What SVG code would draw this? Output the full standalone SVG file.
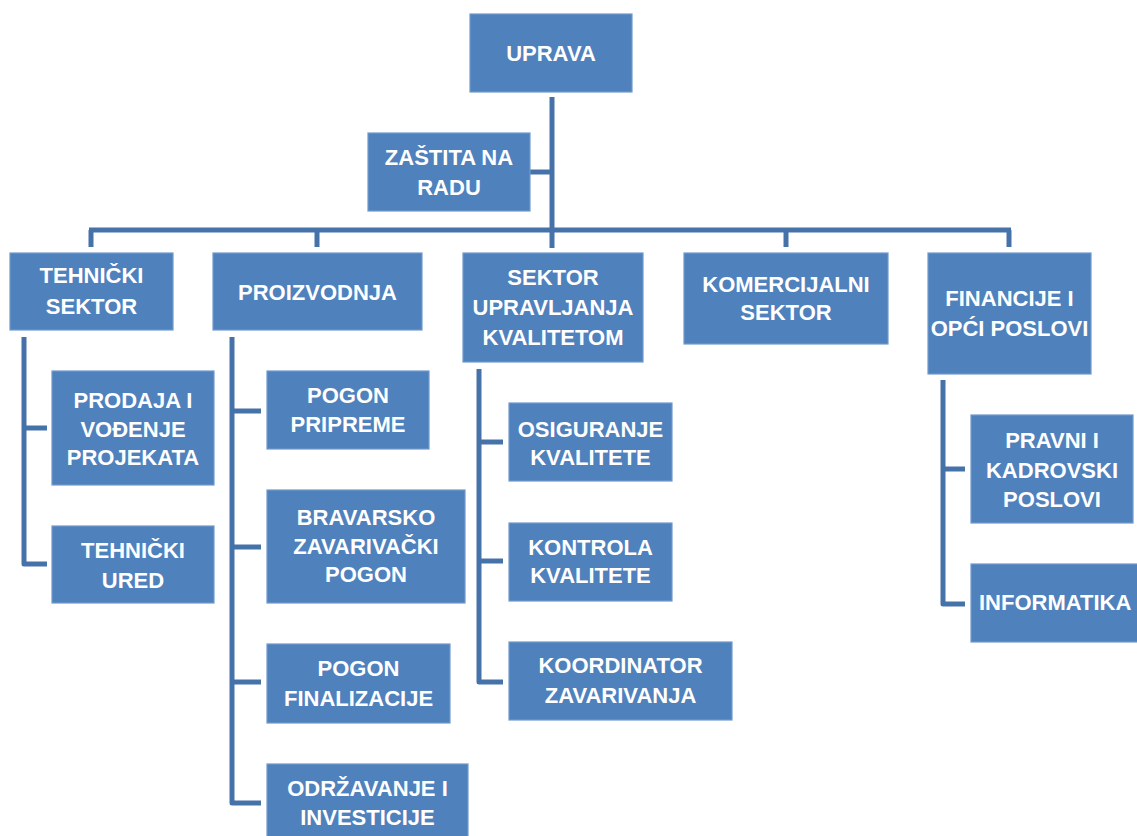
<svg xmlns="http://www.w3.org/2000/svg" width="1137" height="836" viewBox="0 0 1137 836">
<style>
.box{fill:#4f81bd;stroke:#7099cc;stroke-width:1.2}
.t{font-family:"Liberation Sans",Arial,sans-serif;font-weight:bold;font-size:22px;fill:#ffffff;text-anchor:middle}
.c{fill:none;stroke:#4672aa;stroke-width:5;stroke-linejoin:round}
</style>
<rect width="1137" height="836" fill="#ffffff"/>
<g id="connectors">
<path class="c" d="M552 97 V248"/>
<path class="c" d="M529 172 H552"/>
<path class="c" d="M89 230 H1011"/>
<path class="c" d="M91 230 V247 M317 230 V247 M786 230 V247 M1009 230 V247"/>
<path class="c" d="M24 337 V564 H47 M24 428 H47"/>
<path class="c" d="M232 337 V803 H261 M232 411 H261 M232 547 H261 M232 682 H261"/>
<path class="c" d="M479 369 V682 H503 M479 442 H503 M479 561 H503"/>
<path class="c" d="M943 380 V604 H965 M943 469 H965"/>
</g>
<g id="uprava"><rect class="box" x="470" y="14" width="162" height="78"/><text class="t" x="551" y="61">UPRAVA</text></g>
<g id="zastita"><rect class="box" x="368" y="133" width="162" height="78"/><text class="t" x="449" y="165">ZAŠTITA NA</text><text class="t" x="449" y="194.5">RADU</text></g>
<g id="tehnicki-sektor"><rect class="box" x="10" y="253" width="163" height="77"/><text class="t" x="91.5" y="283">TEHNIČKI</text><text class="t" x="91.5" y="313.5">SEKTOR</text></g>
<g id="proizvodnja"><rect class="box" x="213" y="253" width="209" height="77"/><text class="t" x="317.5" y="299.5">PROIZVODNJA</text></g>
<g id="sektor-upravljanja"><rect class="box" x="463" y="253" width="180" height="109"/><text class="t" x="553" y="285">SEKTOR</text><text class="t" x="553" y="315">UPRAVLJANJA</text><text class="t" x="553" y="345">KVALITETOM</text></g>
<g id="komercijalni"><rect class="box" x="684" y="253" width="204" height="91"/><text class="t" x="786" y="291.5">KOMERCIJALNI</text><text class="t" x="786" y="319.5">SEKTOR</text></g>
<g id="financije"><rect class="box" x="928" y="253" width="163" height="121"/><text class="t" x="1009.5" y="305.5">FINANCIJE I</text><text class="t" x="1009.5" y="335.5">OPĆI POSLOVI</text></g>
<g id="prodaja"><rect class="box" x="52" y="371" width="162" height="114"/><text class="t" x="133" y="407.5">PRODAJA I</text><text class="t" x="133" y="436.5">VOĐENJE</text><text class="t" x="133" y="464.5">PROJEKATA</text></g>
<g id="tehnicki-ured"><rect class="box" x="52" y="526" width="162" height="77"/><text class="t" x="133" y="558">TEHNIČKI</text><text class="t" x="133" y="587.5">URED</text></g>
<g id="pogon-pripreme"><rect class="box" x="267" y="371" width="162" height="78"/><text class="t" x="348" y="403">POGON</text><text class="t" x="348" y="432">PRIPREME</text></g>
<g id="bravarsko"><rect class="box" x="267" y="490" width="198" height="113"/><text class="t" x="366" y="524.5">BRAVARSKO</text><text class="t" x="366" y="553.5">ZAVARIVAČKI</text><text class="t" x="366" y="581.5">POGON</text></g>
<g id="pogon-finalizacije"><rect class="box" x="267" y="644" width="183" height="79"/><text class="t" x="358.5" y="676">POGON</text><text class="t" x="358.5" y="706">FINALIZACIJE</text></g>
<g id="odrzavanje"><rect class="box" x="267" y="764" width="201" height="80"/><text class="t" x="367.5" y="796">ODRŽAVANJE I</text><text class="t" x="367.5" y="824.5">INVESTICIJE</text></g>
<g id="osiguranje"><rect class="box" x="509" y="403" width="163" height="78"/><text class="t" x="590.5" y="436.5">OSIGURANJE</text><text class="t" x="590.5" y="464.5">KVALITETE</text></g>
<g id="kontrola"><rect class="box" x="509" y="523" width="163" height="78"/><text class="t" x="590.5" y="554.5">KONTROLA</text><text class="t" x="590.5" y="583">KVALITETE</text></g>
<g id="koordinator"><rect class="box" x="509" y="642" width="223" height="78"/><text class="t" x="620.5" y="673">KOORDINATOR</text><text class="t" x="620.5" y="703">ZAVARIVANJA</text></g>
<g id="pravni"><rect class="box" x="971" y="415" width="162" height="108"/><text class="t" x="1052" y="447.5">PRAVNI I</text><text class="t" x="1052" y="477.5">KADROVSKI</text><text class="t" x="1052" y="506.5">POSLOVI</text></g>
<g id="informatika"><rect class="box" x="971" y="564" width="172" height="78"/><text class="t" x="979" y="609.5" style="text-anchor:start">INFORMATIKA</text></g>
</svg>
